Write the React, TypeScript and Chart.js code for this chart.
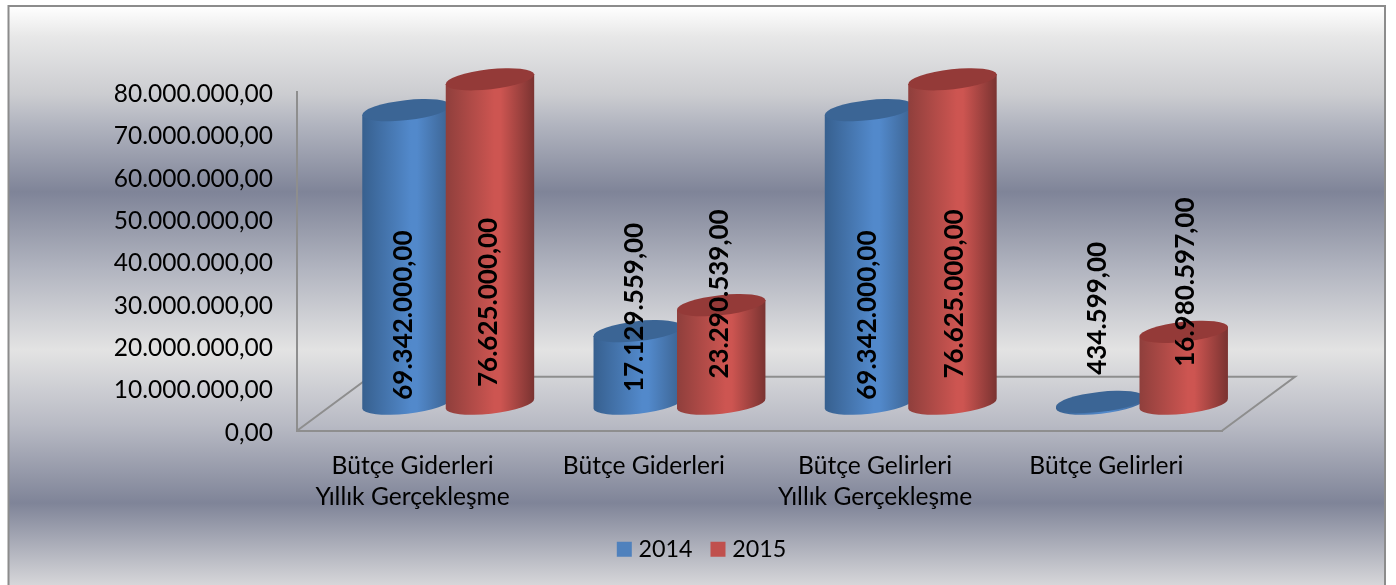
import React, { useEffect, useRef } from "react";
import { Chart, registerables } from "chart.js";

Chart.register(...registerables);

const categories: string[][] = [
  ["Bütçe Giderleri", "Yıllık Gerçekleşme"],
  ["Bütçe Giderleri"],
  ["Bütçe Gelirleri", "Yıllık Gerçekleşme"],
  ["Bütçe Gelirleri"],
];
const values2014 = [69342000, 17129559, 69342000, 434599];
const values2015 = [76625000, 23290539, 76625000, 16980597];
// where each rotated value label is centred, read against the value axis
const labelAt2014 = [27300000, 29100000, 27300000, 28900000];
const labelAt2015 = [30300000, 32300000, 32300000, 35100000];
// sideways nudge of each value label from its cylinder's axis
const labelNudge2014 = [-2.5, -3.5, -1, -3];
const labelNudge2015 = [-1, -1.5, 2, 2];

const FONT = "Lato";
const AXIS = "#8e8e8e";
const DEPTH_X = 73;
const DEPTH_Y = -54;
const TILT = -6.4 * (Math.PI / 180);
const WIDTH_FACTOR = 1.066;
const RADIUS_Y = 10;

const shades = [
  { edgeL: "#37608f", mid: "#5289cb", edgeR: "#3b6290", top: "#3b6595" },
  { edgeL: "#8f3f3c", mid: "#cd5551", edgeR: "#7a3331", top: "#943a38" },
];

const fmt = (n: number) =>
  String(Math.round(n)).replace(/\B(?=(\d{3})+(?!\d))/g, ".") + ",00";

const scenePlugin = {
  id: "scene",
  beforeDraw(chart: any) {
    const { ctx, width, height } = chart;
    const g = ctx.createLinearGradient(0, 6, 0, 585);
    const stops: [number, string][] = [
      [6, "#ffffff"],
      [36, "#e8e8e8"],
      [95, "#cbccd0"],
      [125, "#b1b4bf"],
      [192, "#7f8498"],
      [270, "#b2b5c0"],
      [350, "#e3e3e3"],
      [425, "#b8bac4"],
      [503, "#7f8498"],
      [585, "#d6d6d9"],
    ];
    stops.forEach(([y, c]) => g.addColorStop((y - 6) / 579, c));
    ctx.save();
    ctx.fillStyle = "#ffffff";
    ctx.fillRect(0, 0, width, height);
    ctx.fillStyle = g;
    ctx.fillRect(9, 6, 1375, 579);
    ctx.strokeStyle = "#8c8c8c";
    ctx.lineWidth = 2;
    ctx.beginPath();
    ctx.moveTo(8.5, 590);
    ctx.lineTo(8.5, 6);
    ctx.lineTo(1385, 6);
    ctx.lineTo(1385, 590);
    ctx.stroke();
    ctx.restore();
  },
  beforeDatasetsDraw(chart: any) {
    const { ctx, chartArea: a } = chart;
    ctx.save();
    ctx.strokeStyle = AXIS;
    ctx.lineWidth = 2;
    ctx.beginPath();
    ctx.moveTo(a.left, a.bottom);
    ctx.lineTo(a.left + DEPTH_X, a.bottom + DEPTH_Y);
    ctx.lineTo(a.right + DEPTH_X, a.bottom + DEPTH_Y);
    ctx.lineTo(a.right, a.bottom);
    ctx.stroke();
    ctx.restore();
    // cylinders, first series first so the second overlaps it
    chart.data.datasets.forEach((_: any, d: number) => {
      const s = shades[d];
      chart.getDatasetMeta(d).data.forEach((bar: any) => {
        const cx = bar.x + DEPTH_X / 2 - 0.9;
        const topY = bar.y + DEPTH_Y / 2;
        const baseY = bar.base + DEPTH_Y / 2;
        const w = bar.width * WIDTH_FACTOR;
        const r = w / 2;
        const ex = r * Math.cos(TILT);
        const ey = r * Math.sin(TILT);
        const g = ctx.createLinearGradient(cx - ex, 0, cx + ex, 0);
        g.addColorStop(0, s.edgeL);
        g.addColorStop(0.55, s.mid);
        g.addColorStop(0.62, s.mid);
        g.addColorStop(1, s.edgeR);
        ctx.save();
        ctx.fillStyle = g;
        ctx.beginPath();
        ctx.moveTo(cx - ex, topY - ey);
        ctx.lineTo(cx - ex, baseY - ey);
        ctx.ellipse(cx, baseY, r, RADIUS_Y, TILT, Math.PI, 0, true);
        ctx.lineTo(cx + ex, topY + ey);
        ctx.closePath();
        ctx.fill();
        ctx.fillStyle = s.top;
        ctx.beginPath();
        ctx.ellipse(cx, topY, r, RADIUS_Y, TILT, 0, Math.PI * 2);
        ctx.fill();
        ctx.restore();
      });
    });
  },
  beforeDatasetDraw() {
    return false;
  },
  afterDatasetsDraw(chart: any) {
    const { ctx } = chart;
    const yScale = chart.scales.y;
    const anchors = [labelAt2014, labelAt2015];
    const nudges = [labelNudge2014, labelNudge2015];
    ctx.save();
    ctx.fillStyle = "#000000";
    ctx.font = `bold 26px ${FONT}`;
    ctx.textAlign = "center";
    ctx.textBaseline = "middle";
    chart.data.datasets.forEach((ds: any, d: number) => {
      chart.getDatasetMeta(d).data.forEach((bar: any, i: number) => {
        ctx.save();
        ctx.translate(bar.x + DEPTH_X / 2 - 0.9 + nudges[d][i], yScale.getPixelForValue(anchors[d][i]));
        ctx.rotate(-Math.PI / 2);
        ctx.fillText(fmt(ds.data[i]), 0, 0);
        ctx.restore();
      });
    });
    ctx.restore();
  },
};

export default function App() {
  const ref = useRef<HTMLCanvasElement>(null);
  useEffect(() => {
    const chart = new Chart(ref.current as HTMLCanvasElement, {
      type: "bar",
      data: {
        labels: categories,
        datasets: [
          {
            label: "2014",
            data: values2014,
            backgroundColor: "#4f81bd",
            borderColor: "#4f81bd",
            borderWidth: 10,
            categoryPercentage: 0.722,
            barPercentage: 1,
          },
          {
            label: "2015",
            data: values2015,
            backgroundColor: "#c0504d",
            borderColor: "#c0504d",
            borderWidth: 10,
            categoryPercentage: 0.722,
            barPercentage: 1,
          },
        ],
      },
      options: {
        responsive: false,
        animation: false,
        layout: { padding: { left: 12, top: 92, right: 0, bottom: 14 } },
        plugins: {
          tooltip: { enabled: false },
          title: { display: false },
          legend: {
            display: true,
            position: "bottom",
            labels: {
              boxWidth: 5,
              boxHeight: 5,
              padding: 23,
              color: "#000000",
              font: { family: FONT, size: 23.3 },
            },
          },
        },
        scales: {
          x: {
            grid: { display: false, drawTicks: false },
            border: { display: true, color: AXIS, width: 2 },
            ticks: {
              color: "#000000",
              font: { family: FONT, size: 24.6, lineHeight: 1.26 },
              padding: 20,
              maxRotation: 0,
              autoSkip: false,
            },
            afterFit: (s: any) => {
              s.height = 84;
            },
          },
          y: {
            min: 0,
            max: 80000000,
            grid: { display: false, drawTicks: false },
            border: { display: true, color: AXIS, width: 2 },
            ticks: {
              stepSize: 10000000,
              autoSkip: false,
              color: "#000000",
              font: { family: FONT, size: 24.5, lineHeight: "4px" },
              padding: 24,
              // empty first line moves the text 2px down to sit on its tick as in the reference
              callback: (v: any) => ["", fmt(Number(v))],
            },
            afterFit: (s: any) => {
              s.width = 285;
            },
          },
          y2: {
            position: "right",
            display: true,
            grid: { display: false, drawTicks: false },
            border: { display: false },
            ticks: { display: false },
            afterFit: (s: any) => {
              s.width = 174;
            },
          },
        },
      },
      plugins: [scenePlugin],
    } as any);
    return () => chart.destroy();
  }, []);
  return (
    <div style={{ position: "absolute", left: 0, top: 0, width: 1396, height: 585, overflow: "hidden" }}>
      <canvas ref={ref} width={1396} height={585} style={{ display: "block" }} />
    </div>
  );
}
